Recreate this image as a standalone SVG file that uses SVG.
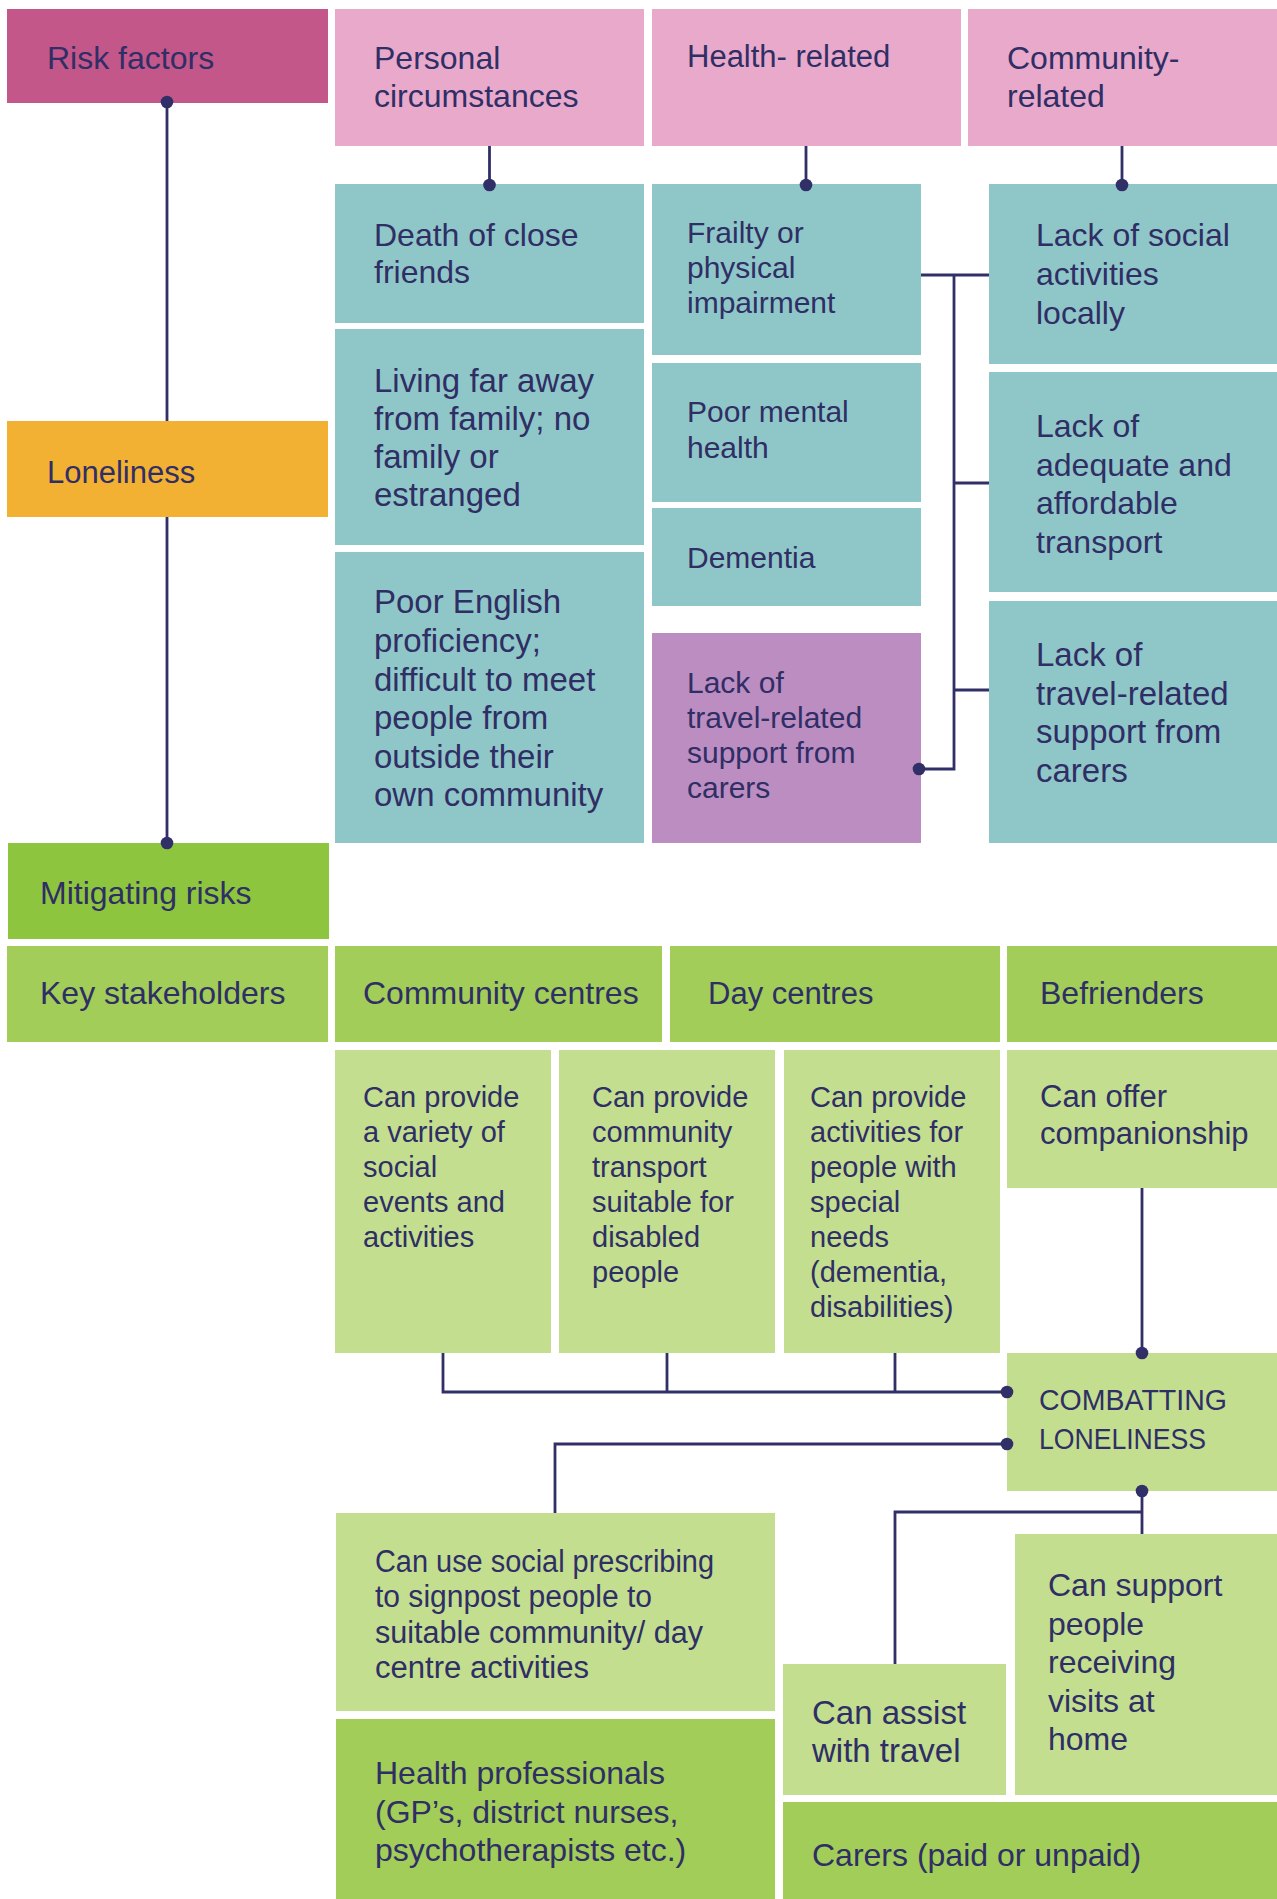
<svg xmlns="http://www.w3.org/2000/svg" width="1277" height="1899" viewBox="0 0 1277 1899">
  <defs>
    <style>
      text { font-family: "Liberation Sans", Arial, sans-serif; fill: #2F2E65; }
      .risk { fill: #C4578A; }
      .pink { fill: #E8A9CB; }
      .teal { fill: #8FC7C8; }
      .orange { fill: #F3B134; }
      .purple { fill: #BC8DC1; }
      .green { fill: #8DC53F; }
      .mid { fill: #A1CD58; }
      .light { fill: #C3DE8F; }
      .wire { fill: none; stroke: #312F68; stroke-width: 2.8; }
      .dot { fill: #312F68; }
    </style>
  </defs>
  <rect width="1277" height="1899" fill="#FFFFFF"/>

  <!-- risk factor header row -->
  <g id="n-risk"><rect class="risk" x="7" y="9" width="321" height="94"/>
    <text font-size="32" x="47" y="69">Risk factors</text></g>
  <g id="n-personal"><rect class="pink" x="335" y="9" width="309" height="137"/>
    <text font-size="32"><tspan x="374" y="69">Personal</tspan><tspan x="374" y="107">circumstances</tspan></text></g>
  <g id="n-health"><rect class="pink" x="652" y="9" width="309" height="137"/>
    <text font-size="31" x="687" y="67">Health- related</text></g>
  <g id="n-community"><rect class="pink" x="968" y="9" width="309" height="137"/>
    <text font-size="32"><tspan x="1007" y="69">Community-</tspan><tspan x="1007" y="107">related</tspan></text></g>

  <!-- personal circumstances -->
  <g id="n-death"><rect class="teal" x="335" y="184" width="309" height="139"/>
    <text font-size="32"><tspan x="374" y="246">Death of close</tspan><tspan x="374" y="283">friends</tspan></text></g>
  <g id="n-living"><rect class="teal" x="335" y="329" width="309" height="216"/>
    <text font-size="33"><tspan x="374" y="392">Living far away</tspan><tspan x="374" y="430">from family; no</tspan><tspan x="374" y="468">family or</tspan><tspan x="374" y="506">estranged</tspan></text></g>
  <g id="n-english"><rect class="teal" x="335" y="552" width="309" height="291"/>
    <text font-size="33"><tspan x="374" y="613">Poor English</tspan><tspan x="374" y="652">proficiency;</tspan><tspan x="374" y="691">difficult to meet</tspan><tspan x="374" y="729">people from</tspan><tspan x="374" y="768">outside their</tspan><tspan x="374" y="806">own community</tspan></text></g>

  <!-- health related -->
  <g id="n-frailty"><rect class="teal" x="652" y="184" width="269" height="171"/>
    <text font-size="30"><tspan x="687" y="243">Frailty or</tspan><tspan x="687" y="278">physical</tspan><tspan x="687" y="313">impairment</tspan></text></g>
  <g id="n-mental"><rect class="teal" x="652" y="363" width="269" height="139"/>
    <text font-size="30"><tspan x="687" y="422">Poor mental</tspan><tspan x="687" y="458">health</tspan></text></g>
  <g id="n-dementia"><rect class="teal" x="652" y="508" width="269" height="98"/>
    <text font-size="30" x="687" y="568">Dementia</text></g>
  <g id="n-carer-travel"><rect class="purple" x="652" y="633" width="269" height="210"/>
    <text font-size="30"><tspan x="687" y="693">Lack of</tspan><tspan x="687" y="728">travel-related</tspan><tspan x="687" y="763">support from</tspan><tspan x="687" y="798">carers</tspan></text></g>

  <!-- community related -->
  <g id="n-social"><rect class="teal" x="989" y="184" width="288" height="180"/>
    <text font-size="32"><tspan x="1036" y="246">Lack of social</tspan><tspan x="1036" y="285">activities</tspan><tspan x="1036" y="324">locally</tspan></text></g>
  <g id="n-transport"><rect class="teal" x="989" y="372" width="288" height="220"/>
    <text font-size="32"><tspan x="1036" y="437">Lack of</tspan><tspan x="1036" y="476">adequate and</tspan><tspan x="1036" y="514">affordable</tspan><tspan x="1036" y="553">transport</tspan></text></g>
  <g id="n-travel-support"><rect class="teal" x="989" y="601" width="288" height="242"/>
    <text font-size="33"><tspan x="1036" y="666">Lack of</tspan><tspan x="1036" y="705">travel-related</tspan><tspan x="1036" y="743">support from</tspan><tspan x="1036" y="782">carers</tspan></text></g>

  <!-- left column stages -->
  <g id="n-loneliness"><rect class="orange" x="7" y="421" width="321" height="96"/>
    <text font-size="31" x="47" y="483">Loneliness</text></g>
  <g id="n-mitigating"><rect class="green" x="8" y="843" width="321" height="96"/>
    <text font-size="32" x="40" y="904">Mitigating risks</text></g>

  <!-- stakeholder header row -->
  <g id="n-key"><rect class="mid" x="7" y="946" width="321" height="96"/>
    <text font-size="32" x="40" y="1004">Key stakeholders</text></g>
  <g id="n-community-centres"><rect class="mid" x="335" y="946" width="327" height="96"/>
    <text font-size="32" x="363" y="1004">Community centres</text></g>
  <g id="n-day-centres"><rect class="mid" x="670" y="946" width="330" height="96"/>
    <text font-size="31" x="708" y="1004">Day centres</text></g>
  <g id="n-befrienders"><rect class="mid" x="1007" y="946" width="270" height="96"/>
    <text font-size="32" x="1040" y="1004">Befrienders</text></g>

  <!-- stakeholder contributions -->
  <g id="n-events"><rect class="light" x="335" y="1050" width="216" height="303"/>
    <text font-size="29"><tspan x="363" y="1107">Can provide</tspan><tspan x="363" y="1142">a variety of</tspan><tspan x="363" y="1177">social</tspan><tspan x="363" y="1212">events and</tspan><tspan x="363" y="1247">activities</tspan></text></g>
  <g id="n-comm-transport"><rect class="light" x="559" y="1050" width="216" height="303"/>
    <text font-size="29"><tspan x="592" y="1107">Can provide</tspan><tspan x="592" y="1142">community</tspan><tspan x="592" y="1177">transport</tspan><tspan x="592" y="1212">suitable for</tspan><tspan x="592" y="1247">disabled</tspan><tspan x="592" y="1282">people</tspan></text></g>
  <g id="n-special"><rect class="light" x="784" y="1050" width="216" height="303"/>
    <text font-size="29"><tspan x="810" y="1107">Can provide</tspan><tspan x="810" y="1142">activities for</tspan><tspan x="810" y="1177">people with</tspan><tspan x="810" y="1212">special</tspan><tspan x="810" y="1247">needs</tspan><tspan x="810" y="1282">(dementia,</tspan><tspan x="810" y="1317">disabilities)</tspan></text></g>
  <g id="n-companion"><rect class="light" x="1007" y="1050" width="270" height="138"/>
    <text font-size="31"><tspan x="1040" y="1107">Can offer</tspan><tspan x="1040" y="1144">companionship</tspan></text></g>

  <g id="n-combat"><rect class="light" x="1007" y="1353" width="270" height="138"/>
    <text font-size="30" x="1039" y="1410" textLength="188" lengthAdjust="spacingAndGlyphs">COMBATTING</text>
    <text font-size="30" x="1039" y="1449" textLength="167" lengthAdjust="spacingAndGlyphs">LONELINESS</text></g>

  <g id="n-prescribing"><rect class="light" x="336" y="1513" width="439" height="198"/>
    <text font-size="31" x="375" y="1572" textLength="339" lengthAdjust="spacingAndGlyphs">Can use social prescribing</text>
    <text font-size="31" x="375" y="1607" textLength="277" lengthAdjust="spacingAndGlyphs">to signpost people to</text>
    <text font-size="31" x="375" y="1643" textLength="328" lengthAdjust="spacingAndGlyphs">suitable community/ day</text>
    <text font-size="31" x="375" y="1678" textLength="214" lengthAdjust="spacingAndGlyphs">centre activities</text></g>
  <g id="n-health-pro"><rect class="mid" x="336" y="1719" width="439" height="180"/>
    <text font-size="32"><tspan x="375" y="1784">Health professionals</tspan><tspan x="375" y="1823">(GP’s, district nurses,</tspan><tspan x="375" y="1861">psychotherapists etc.)</tspan></text></g>
  <g id="n-assist"><rect class="light" x="783" y="1664" width="223" height="131"/>
    <text font-size="33"><tspan x="812" y="1724">Can assist</tspan><tspan x="812" y="1762">with travel</tspan></text></g>
  <g id="n-home"><rect class="light" x="1015" y="1534" width="262" height="261"/>
    <text font-size="32"><tspan x="1048" y="1596">Can support</tspan><tspan x="1048" y="1635">people</tspan><tspan x="1048" y="1673">receiving</tspan><tspan x="1048" y="1712">visits at</tspan><tspan x="1048" y="1750">home</tspan></text></g>
  <g id="n-carers"><rect class="mid" x="783" y="1802" width="494" height="97"/>
    <text font-size="32" x="812" y="1866">Carers (paid or unpaid)</text></g>

  <!-- connectors -->
  <g id="connectors">
    <path class="wire" d="M167 102V421M167 517V843"/>
    <circle class="dot" cx="167" cy="102" r="6.3"/>
    <circle class="dot" cx="167" cy="843" r="6.3"/>

    <path class="wire" d="M489.5 146V185M806 146V185M1122 146V185"/>
    <circle class="dot" cx="489.5" cy="185" r="6.3"/>
    <circle class="dot" cx="806" cy="185" r="6.3"/>
    <circle class="dot" cx="1122" cy="185" r="6.3"/>

    <path class="wire" d="M921 275H989M954 275V769H919M954 483H989M954 690H989"/>
    <circle class="dot" cx="919" cy="769" r="6.3"/>

    <path class="wire" d="M1142 1188V1353"/>
    <circle class="dot" cx="1142" cy="1353" r="6.3"/>
    <path class="wire" d="M443 1353V1392H1007M667 1353V1392M895 1353V1392"/>
    <circle class="dot" cx="1007" cy="1392" r="6.3"/>
    <path class="wire" d="M1007 1444H555V1513"/>
    <circle class="dot" cx="1007" cy="1444" r="6.3"/>
    <path class="wire" d="M1142 1491V1534M1142 1512H895V1664"/>
    <circle class="dot" cx="1142" cy="1491" r="6.3"/>
  </g>
</svg>
